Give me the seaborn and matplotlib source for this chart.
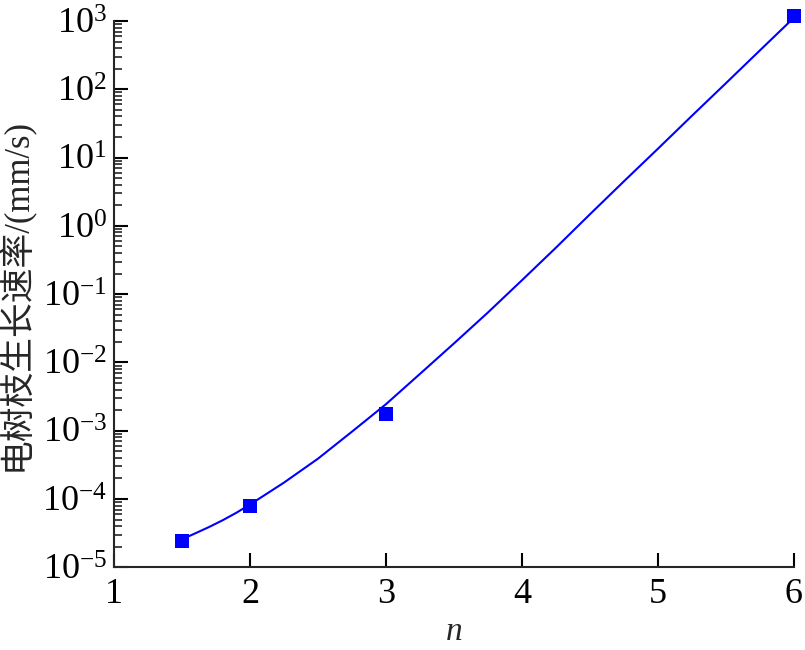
import numpy as np
import pandas as pd
import seaborn as sns
import matplotlib.pyplot as plt
from matplotlib.ticker import LogLocator, NullLocator

# measured points
n_pts = [1.5, 2, 3, 6]
rate_pts = [2.4e-5, 7.9e-5, 1.75e-3, 1.2e3]

# fitted curve
n_fit = [1.5, 1.6, 1.7, 1.8, 1.9, 2.0, 2.25, 2.5, 2.75, 3.0, 3.25, 3.5, 3.75,
         4.0, 4.25, 4.5, 4.75, 5.0, 5.25, 5.5, 5.75, 6.0]
rate_fit = [2.57e-5, 3.16e-5, 3.9e-5, 4.9e-5, 6.3e-5, 8.3e-5, 1.74e-4, 3.9e-4,
            9.7e-4, 2.45e-3, 6.8e-3, 1.9e-2, 5.4e-2, 0.16, 0.48, 1.48, 4.5,
            13.5, 41, 123, 372, 1120]

sns.set_style("ticks")
plt.rcParams['font.family'] = ['Liberation Serif', 'Noto Sans CJK SC']
plt.rcParams['mathtext.fontset'] = 'custom'
plt.rcParams['mathtext.rm'] = 'Liberation Serif'
plt.rcParams['mathtext.it'] = 'Liberation Serif:italic'

df_pts = pd.DataFrame({"n": n_pts, "rate": rate_pts})
df_fit = pd.DataFrame({"n": n_fit, "rate": rate_fit})

fig = plt.figure(figsize=(8.05, 6.5), dpi=100)
ax = fig.add_axes([0.1416, 0.1272, 0.8447, 0.8405])

sns.lineplot(data=df_fit, x="n", y="rate", color="#0000ff", linewidth=1.5,
             estimator=None, sort=False, ax=ax)
sns.scatterplot(data=df_pts, x="n", y="rate", color="#0000ff", marker="s", s=100,
                linewidth=0, ax=ax, clip_on=False, zorder=5)

ax.set_yscale("log")
ax.set_xlim(1, 6)
ax.set_ylim(1e-5, 1e3)
ax.set_xticks([1, 2, 3, 4, 5, 6])
ax.xaxis.set_minor_locator(NullLocator())
ax.yaxis.set_major_locator(LogLocator(base=10, numticks=20))
ax.yaxis.set_minor_locator(LogLocator(base=10, subs=np.arange(2, 10), numticks=20))

for side in ["top", "right"]:
    ax.spines[side].set_visible(False)
for side in ["left", "bottom"]:
    ax.spines[side].set_linewidth(1.5)

ax.tick_params(axis="both", which="major", direction="in", length=10, width=1.5,
               labelsize=26, colors="black")
ax.tick_params(axis="x", which="major", pad=8)
ax.tick_params(axis="y", which="major", pad=5)
ax.tick_params(axis="y", which="minor", direction="in", length=6, width=1.2)

ax.set_xlabel("$n$", fontsize=24, labelpad=4)
ax.set_ylabel("电树枝生长速率/(mm/s)", fontsize=25, labelpad=6)

fig.savefig("out.png", dpi=100)
